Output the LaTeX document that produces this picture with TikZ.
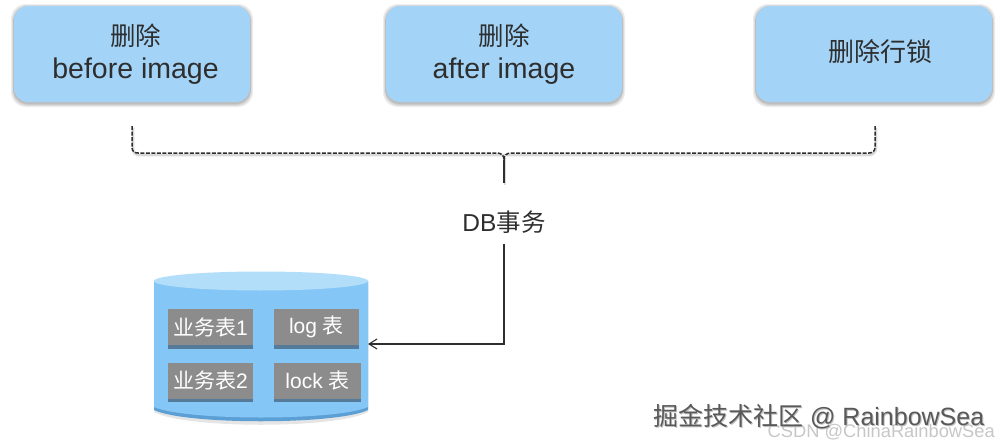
\documentclass[tikz,border=0pt]{standalone}
\usepackage{fontspec}
\setmainfont{Liberation Sans}
\newfontfamily\cjk{Noto Sans CJK SC}
\usetikzlibrary{arrows.meta}
\definecolor{boxblue}{HTML}{A3D4F7}
\definecolor{cylblue}{HTML}{84C6F5}
\definecolor{cyltop}{HTML}{B2DEFA}
\definecolor{cyldark}{HTML}{5B9FD4}
\definecolor{tablegray}{HTML}{8C8C8C}
\definecolor{tableedge}{HTML}{557A9A}
\definecolor{ink}{HTML}{2E2E2E}
\tikzset{
  topbox/.style={draw=none,fill=boxblue,rounded corners=14pt,minimum width=236pt,minimum height=96pt,inner sep=0pt,align=center,text=ink,font=\fontsize{28.5}{33}\selectfont,outer sep=0pt},
  boxshadow/.style={fill=black,fill opacity=0.07,draw=none,rounded corners=15pt},
  tablebox/.style={fill=tablegray,draw=none,minimum height=36pt,inner sep=0pt,text=white,font=\fontsize{21}{24}\selectfont},
  tableshadow/.style={fill=tableedge,draw=none},
  txt/.style={text=ink,inner sep=0pt},
  brace/.style={draw=ink,line width=1.5pt,dash pattern=on 4pt off 1.5pt},
  braceshadow/.style={draw=black,draw opacity=0.15,line width=2.5pt},
  link/.style={draw=ink,line width=1.1pt},
}
\newcommand{\softshadow}[2]{%
  \fill[boxshadow] (#1-3,4) rectangle (#2+3,107);
  \fill[boxshadow] (#1-2,5) rectangle (#2+2,106);
  \fill[boxshadow] (#1-1,6) rectangle (#2+1,105);
  \fill[boxshadow] (#1-1,7) rectangle (#2+1,104);
}
\begin{document}
\begin{tikzpicture}[x=1pt,y=-1pt]
\useasboundingbox (0,0) rectangle (1001,447);
\fill[white] (0,0) rectangle (1001,447);
% top boxes
\softshadow{14}{250}
\softshadow{386}{622}
\softshadow{756}{992}
\node[topbox] (b1) at (132,54) {};
\node[txt,align=center,font=\fontsize{28.5}{33}\selectfont] (b1t) at (135.5,54) {{\cjk\fontsize{25.5}{33}\selectfont 删除}\\before image};
\node[topbox] (b2) at (504,54) {{\cjk\fontsize{25.5}{33}\selectfont 删除}\\after image};
\node[topbox] (b3) at (874,54) {};
\node[txt,font=\cjk\fontsize{26}{30}\selectfont] (b3t) at (880,52) {删除行锁};
% brace
\coordinate (bl) at (132,126);
\coordinate (br) at (875,126);
\coordinate (bm) at (504,183);
\draw[braceshadow] (133,128) -- (133,148) .. controls (133,152) and (135,155) .. (139,155) -- (869,155) .. controls (873,155) and (876,152) .. (876,148) -- (876,128);
\draw[braceshadow] (505,158) -- (505,185);
\draw[brace] (bl) -- (132,147) .. controls (132,151) and (134,153) .. (138,153) -- (497,153) .. controls (501,153) and (504,155) .. (504,160);
\draw[brace] (br) -- (875,147) .. controls (875,151) and (873,153) .. (869,153) -- (511,153) .. controls (507,153) and (504,155) .. (504,160);
\draw[link,line width=1.5pt] (504,160) -- (bm);
% label
\node[txt,font=\fontsize{24.5}{28}\selectfont] (db) at (504,222) {DB{\cjk 事务}};
% cylinder
\fill[black,fill opacity=0.1] (154,285) -- (154,412) .. controls (185,429) and (337,429) .. (368,412) -- (368,285) -- cycle;
\fill[cyldark] (154,281) -- (154,410) .. controls (185,425) and (337,425) .. (368,410) -- (368,281) -- cycle;
\fill[cylblue] (154,281) -- (154,407) .. controls (185,421) and (337,421) .. (368,407) -- (368,281) -- cycle;
\fill[cyltop] (261,281) ellipse [x radius=107,y radius=9.5];
% tables
\fill[tableshadow] (168,312) rectangle (253,349);
\fill[tableshadow] (274,312) rectangle (359,349);
\fill[tableshadow] (168,365) rectangle (253,402);
\fill[tableshadow] (274,365) rectangle (361,402);
\node[tablebox,minimum width=85pt] (t1) at (210.5,327) {{\cjk 业务表}1};
\node[tablebox,minimum width=85pt] (t2) at (316.5,327) {log {\cjk 表}};
\node[tablebox,minimum width=85pt] (t3) at (210.5,380.5) {{\cjk 业务表}2};
\node[tablebox,minimum width=87pt] (t4) at (317.5,380.5) {lock {\cjk 表}};
% arrow
\coordinate (cylr) at (368,344);
\draw[link,-{Straight Barb[length=8pt,width=10pt]}] (db.south) ++(0,10) |- (cylr);
% watermarks
\node[inner sep=0pt,text=black!22,font=\fontsize{18.3}{22}\selectfont,anchor=east] (w2) at (995,432) {CSDN @ChinaRainbowSea};
\node[inner sep=0pt,text=black!25,font=\fontsize{25}{28}\selectfont,anchor=west] (w1s) at (654,418) {{\cjk 掘金技术社区} @ RainbowSea};
\node[inner sep=0pt,text=black!65,font=\fontsize{25}{28}\selectfont,anchor=west] (w1) at (653,417) {{\cjk 掘金技术社区} @ RainbowSea};
\end{tikzpicture}
\end{document}
